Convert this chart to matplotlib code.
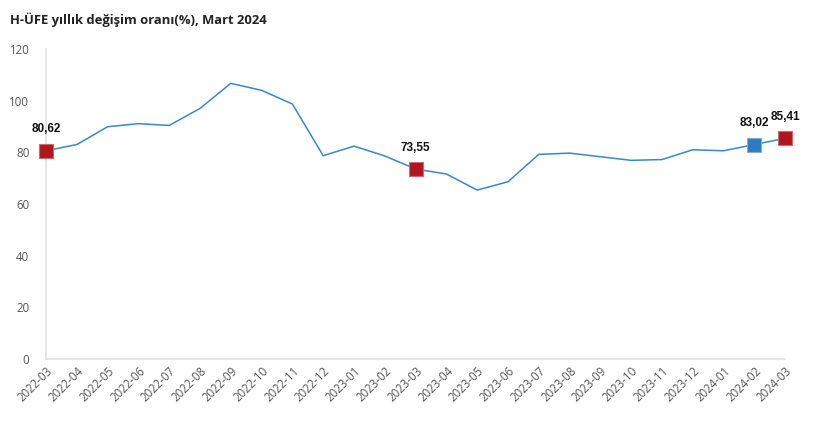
import matplotlib.pyplot as plt

plt.rcParams['font.family'] = ['Open Sans', 'DejaVu Sans']

months = ["2022-03", "2022-04", "2022-05", "2022-06", "2022-07", "2022-08",
          "2022-09", "2022-10", "2022-11", "2022-12", "2023-01", "2023-02",
          "2023-03", "2023-04", "2023-05", "2023-06", "2023-07", "2023-08",
          "2023-09", "2023-10", "2023-11", "2023-12", "2024-01", "2024-02",
          "2024-03"]
values = [80.62, 83.0, 89.9, 91.1, 90.4, 97.0, 106.7, 104.0, 98.7, 78.7,
          82.4, 78.6, 73.55, 71.6, 65.4, 68.6, 79.2, 79.7, 78.3, 76.9,
          77.2, 81.0, 80.6, 83.02, 85.41]

red_idx = [0, 12, 24]
blue_idx = [23]
label_idx = [0, 12, 23, 24]

fig = plt.figure(figsize=(8.23, 4.21), dpi=100)
ax = fig.add_axes([0.0559, 0.1473, 0.954 - 0.0559, 0.8836 - 0.1473])

x = list(range(len(months)))
ax.plot(x, values, color='#3a87c8', lw=1.1, zorder=2)

for i in red_idx:
    ax.plot(i, values[i], 's', ms=10.5, color='#b0161f', mec='#cc6a70', mew=0.8,
            clip_on=False, zorder=3)
for i in blue_idx:
    ax.plot(i, values[i], 's', ms=10.5, color='#2e7bbf', mec='#7fb0dc', mew=0.8,
            clip_on=False, zorder=3)

# value labels
for i in label_idx:
    ax.annotate(f"{values[i]:.2f}".replace('.', ','), (i, values[i]),
                xytext=(0, 11), textcoords='offset points', ha='center',
                va='bottom', fontsize=8.5, fontweight='bold', color='#111111',
                family=['Liberation Sans', 'DejaVu Sans'])

ax.set_xlim(0, 24)
ax.set_ylim(0, 120)
ax.set_yticks([0, 20, 40, 60, 80, 100, 120])
ax.set_xticks(x)
ax.set_xticklabels(months, rotation=45, ha='right', rotation_mode='anchor')
ax.tick_params(axis='both', length=0, labelsize=8.3, colors='#555555')
ax.tick_params(axis='y', pad=12)
ax.tick_params(axis='x', pad=4)

for s in ['top', 'right']:
    ax.spines[s].set_visible(False)
for s in ['left', 'bottom']:
    ax.spines[s].set_color('#e0e0e0')
    ax.spines[s].set_linewidth(1.2)

fig.text(10 / 823, 1 - 20 / 421, "H-ÜFE yıllık değişim oranı(%), Mart 2024",
         fontsize=9.4, fontweight='bold', color='#222222', va='center')

fig.savefig('out.png', dpi=100)
